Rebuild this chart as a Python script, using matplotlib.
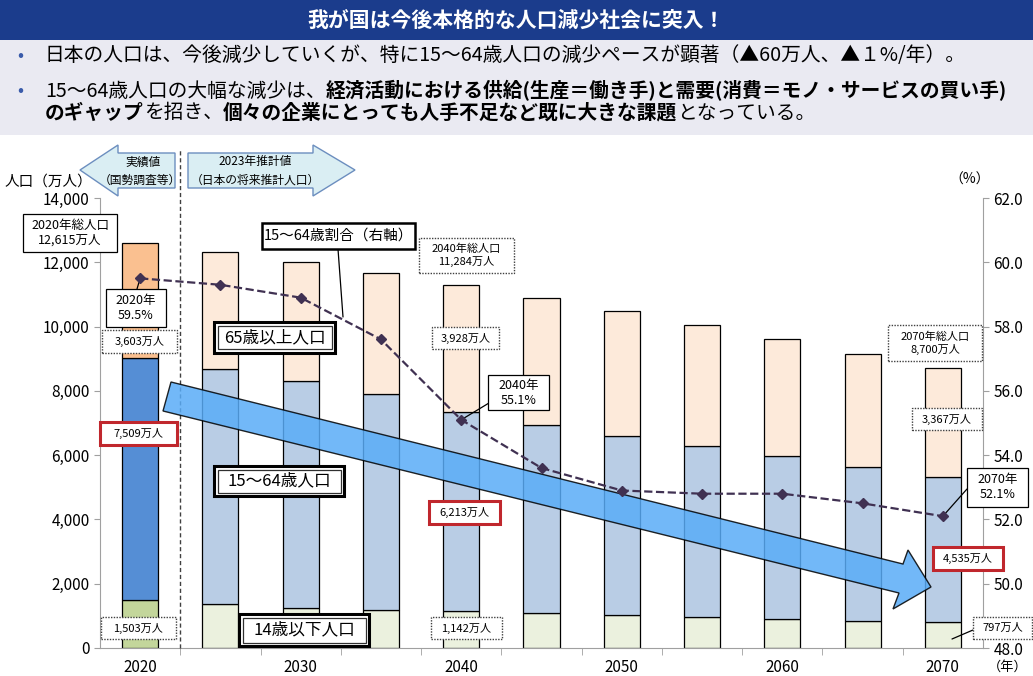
import matplotlib
matplotlib.use('Agg')
import matplotlib.pyplot as plt
from matplotlib.patches import Rectangle, Polygon
from matplotlib.ticker import FuncFormatter, FixedLocator

plt.rcParams['font.family'] = ['Noto Sans CJK JP', 'DejaVu Sans']

# data (万人 / %)
years = [2020, 2025, 2030, 2035, 2040, 2045, 2050, 2055, 2060, 2065, 2070]
age_0_14 = [1503, 1363, 1240, 1169, 1142, 1103, 1041, 966, 893, 836, 797]
age_15_64 = [7509, 7310, 7076, 6722, 6213, 5832, 5540, 5307, 5078, 4809, 4535]
age_65 = [3603, 3653, 3696, 3773, 3928, 3945, 3888, 3778, 3644, 3514, 3367]
ratio_15_64 = [59.5, 59.3, 58.9, 57.6, 55.1, 53.6, 52.9, 52.8, 52.8, 52.5, 52.1]
xtick_years = [2020, 2030, 2040, 2050, 2060, 2070]

W, H = 1033, 676
fig = plt.figure(figsize=(W / 100, H / 100), dpi=100)


def fr(x, y):
    return (x / W, 1 - y / H)


# header bands
fig.add_artist(Rectangle((0, 1 - 40 / H), 1, 40 / H, transform=fig.transFigure, fc='#1B3C8C', ec='none', zorder=0))
fig.add_artist(Rectangle((0, 1 - 135 / H), 1, 95 / H, transform=fig.transFigure, fc='#EAEAF2', ec='none', zorder=0))
fig.text(0.5, 1 - 20 / H, '我が国は今後本格的な人口減少社会に突入！', color='white', fontsize=15,
         fontweight='bold', ha='center', va='center')

renderer = fig.canvas.get_renderer()


def rich_line(x, y, pieces, fs=14.2):
    for txt, bold in pieces:
        t = fig.text(x / W, 1 - y / H, txt, fontsize=fs, fontweight='bold' if bold else 'normal',
                     ha='left', va='center')
        x += t.get_window_extent(renderer=renderer).width


for by in (56, 91):
    fig.text(20 / W, 1 - by / H, '•', color='#3A5BAA', fontsize=13, ha='center', va='center')
rich_line(45, 56, [('日本の人口は、今後減少していくが、特に15～64歳人口の減少ペースが顕著（▲60万人、▲１%/年）。', False)])
rich_line(45, 91, [('15～64歳人口の大幅な減少は、', False),
                   ('経済活動における供給(生産＝働き手)と需要(消費＝モノ・サービスの買い手)', True)])
rich_line(45, 113, [('のギャップ', True), ('を招き、', False),
                    ('個々の企業にとっても人手不足など既に大きな課題', True), ('となっている。', False)])

# main axes
ax = fig.add_axes([100 / W, 1 - 648 / H, 883 / W, 450 / H])
c14 = ['#C3D69B'] + ['#EBF1DE'] * 10
c1564 = ['#558ED5'] + ['#B9CDE5'] * 10
c65 = ['#FAC090'] + ['#FDEADA'] * 10
bot2 = [a + b for a, b in zip(age_0_14, age_15_64)]
bw = 2.25
ax.bar(years, age_0_14, width=bw, color=c14, edgecolor='black', linewidth=0.9, zorder=2)
ax.bar(years, age_15_64, bottom=age_0_14, width=bw, color=c1564, edgecolor='black', linewidth=0.9, zorder=2)
ax.bar(years, age_65, bottom=bot2, width=bw, color=c65, edgecolor='black', linewidth=0.9, zorder=2)

ax.set_xlim(2017.5, 2072.5)
ax.set_ylim(0, 14000)
ax.set_yticks(range(0, 14001, 2000))
ax.yaxis.set_major_formatter(FuncFormatter(lambda v, p: f'{int(v):,}'))
ax.set_xticks(xtick_years)
ax.set_xticklabels([str(y) for y in xtick_years])
ax.xaxis.set_minor_locator(FixedLocator([2022.5 + 5 * i for i in range(10)]))
ax.tick_params(axis='x', which='major', length=0, labelsize=11, pad=8)
ax.tick_params(axis='x', which='minor', length=5, color='#A0A0A0')
ax.tick_params(axis='y', length=4, color='#A0A0A0', labelsize=11)
for s in ['top', 'right']:
    ax.spines[s].set_visible(False)
for s in ['left', 'bottom']:
    ax.spines[s].set_color('#A0A0A0')

# dashed separator between actual and projection
ax.axvline(2022.5, ymin=0, ymax=(648 - 148) / 450, color='#404040', ls=(0, (3, 2)), lw=1, clip_on=False, zorder=3)

# big blue arrow
arrow_px = [(171, 382), (903, 564), (908, 550), (931, 587), (893, 609), (899, 593), (163, 411)]
ax.add_patch(Polygon([fr(*p) for p in arrow_px], closed=True, transform=fig.transFigure,
                     fc='#59ACF7', ec='black', lw=1, alpha=0.85, zorder=4, clip_on=False))

# ratio line
ax2 = ax.twinx()
ax2.plot(years, ratio_15_64, ls='--', color='#403152', lw=1.6, marker='D', markersize=5, zorder=5)
ax2.set_ylim(48, 62)
ax2.set_yticks(range(48, 63, 2))
ax2.yaxis.set_major_formatter(FuncFormatter(lambda v, p: f'{v:.1f}'))
ax2.tick_params(axis='y', length=4, color='#A0A0A0', labelsize=11)
for s in ['top', 'left', 'bottom']:
    ax2.spines[s].set_visible(False)
ax2.spines['right'].set_color('#A0A0A0')

# header arrows
left_arr = [(80, 170), (118, 145), (118, 153), (175, 153), (175, 188), (118, 188), (118, 196)]
right_arr = [(188, 153), (313, 153), (313, 145), (355, 170), (313, 196), (313, 188), (188, 188)]
for pts in (left_arr, right_arr):
    fig.add_artist(Polygon([fr(*p) for p in pts], closed=True, transform=fig.transFigure,
                           fc='#DAEEF3', ec='#6C8EBF', lw=1, zorder=2))
for (x, y), t in [((143, 162), '実績値'), ((140, 180), '（国勢調査等）'),
                  ((255, 162), '2023年推計値'), ((255, 180), '（日本の将来推計人口）')]:
    fig.text(x / W, 1 - y / H, t, fontsize=8.5, ha='center', va='center', zorder=3)

fig.text(5 / W, 1 - 182 / H, '人口（万人）', fontsize=10.5, ha='left', va='center')
fig.text(970 / W, 1 - 180 / H, '（%）', fontsize=10, ha='center', va='center')
fig.text(1008 / W, 1 - 667 / H, '（年）', fontsize=9.5, ha='center', va='center')


def box(x0, y0, x1, y1, text, kind='solid', fs=8.5):
    kw = dict(transform=fig.transFigure, fc='white', zorder=6)
    if kind == 'solid':
        kw.update(ec='black', lw=0.9)
    elif kind == 'dotted':
        kw.update(ec='#404040', lw=1, ls=(0, (1, 1)))
    elif kind == 'red':
        kw.update(ec='#C0272D', lw=2.2)
    elif kind == 'thick':
        kw.update(ec='black', lw=1.8)
    elif kind == 'double':
        kw.update(ec='black', lw=2.2)
    fig.add_artist(Rectangle(fr(x0, y1), (x1 - x0) / W, (y1 - y0) / H, **kw))
    if kind == 'double':
        fig.add_artist(Rectangle(fr(x0 + 3.5, y1 - 3.5), (x1 - x0 - 7) / W, (y1 - y0 - 7) / H,
                                 transform=fig.transFigure, fc='white', ec='#303030', lw=0.9, zorder=6))
    fig.text((x0 + x1) / 2 / W, 1 - (y0 + y1) / 2 / H, text, fontsize=fs, ha='center', va='center',
             linespacing=1.2, zorder=7)


box(23, 214, 117, 252, '2020年総人口\n12,615万人', 'solid', 9)
box(106, 289, 166, 327, '2020年\n59.5%', 'solid', 9)
box(102, 330, 177, 353, '3,603万人', 'dotted', 8)
box(100, 422, 177, 445, '7,509万人', 'red', 8)
box(101, 617, 176, 639, '1,503万人', 'dotted', 8)
box(214, 322, 335, 353, '65歳以上人口', 'double', 12)
box(262, 223, 415, 249, '15～64歳割合（右軸）', 'thick', 10.5)
box(214, 466, 344, 496, '15～64歳人口', 'double', 12)
box(239, 614, 369, 646, '14歳以下人口', 'double', 12)
box(419, 238, 514, 273, '2040年総人口\n11,284万人', 'dotted', 8)
box(432, 327, 499, 349, '3,928万人', 'dotted', 8)
box(488, 375, 549, 410, '2040年\n55.1%', 'solid', 9)
box(429, 501, 500, 524, '6,213万人', 'red', 8)
box(431, 617, 502, 639, '1,142万人', 'dotted', 8)
box(888, 325, 982, 361, '2070年総人口\n8,700万人', 'dotted', 8)
box(912, 408, 982, 430, '3,367万人', 'dotted', 8)
box(967, 468, 1028, 507, '2070年\n52.1%', 'solid', 9)
box(933, 547, 1003, 570, '4,535万人', 'red', 8)
box(973, 617, 1032, 639, '797万人', 'dotted', 8)

# leader lines
lp = dict(arrowstyle='-', color='black', lw=0.9, shrinkA=0, shrinkB=0)
ax2.annotate('', xy=(years[0], ratio_15_64[0]), xytext=fr(137, 289), textcoords='figure fraction', arrowprops=lp)
ax2.annotate('', xy=(years[4], ratio_15_64[4]), xytext=fr(489, 403), textcoords='figure fraction', arrowprops=lp)
ax2.annotate('', xy=(years[-1], ratio_15_64[-1]), xytext=fr(967, 489), textcoords='figure fraction', arrowprops=lp)
ax2.annotate('', xy=fr(343, 317), xycoords='figure fraction', xytext=fr(338, 249), textcoords='figure fraction', arrowprops=lp)
ax2.annotate('', xy=fr(952, 639), xycoords='figure fraction', xytext=fr(973, 630), textcoords='figure fraction', arrowprops=lp)

fig.savefig('out.png', dpi=100)
